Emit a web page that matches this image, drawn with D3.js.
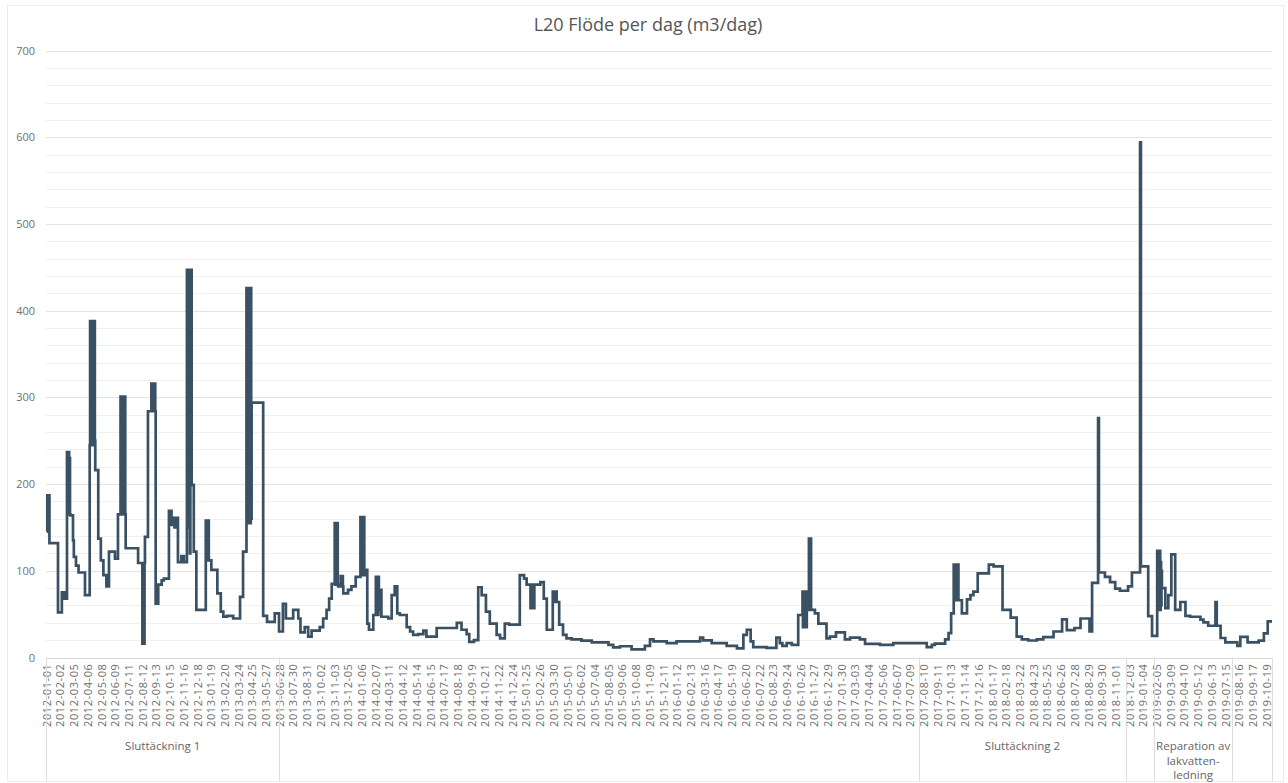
<!DOCTYPE html>
<html>
<head>
<meta charset="utf-8">
<script src="https://cdn.jsdelivr.net/npm/d3@7"></script>
<style>
  html, body { margin: 0; padding: 0; background: #fff; }
  svg { display: block; font-family: "Open Sans", "Segoe UI", sans-serif; }
</style>
</head>
<body>
<svg id="chart" width="1288" height="783"></svg>
<script>
// ---------------- DATA ----------------
const chartTitle = "L20 Flöde per dag (m3/dag)";
const yTicks = [0, 100, 200, 300, 400, 500, 600, 700];

// step series: value holds from its date until the next date
const flowDates = [
  // 2012
  "2012-01-01","2012-01-02","2012-01-03","2012-01-04","2012-01-05","2012-01-06","2012-01-07","2012-01-27","2012-02-05","2012-02-11",
  "2012-02-17","2012-02-18","2012-02-19","2012-02-20","2012-02-21","2012-02-22","2012-02-23","2012-02-24","2012-02-25","2012-03-02",
  "2012-03-04","2012-03-09","2012-03-15","2012-03-30",
  "2012-04-10","2012-04-11","2012-04-12","2012-04-13","2012-04-14","2012-04-15","2012-04-16","2012-04-17","2012-04-18","2012-04-19",
  "2012-04-20","2012-04-21","2012-04-22","2012-04-23","2012-04-30","2012-05-06","2012-05-12","2012-05-19","2012-05-25","2012-06-08",
  "2012-06-15","2012-06-21","2012-06-22","2012-06-23","2012-06-24","2012-06-25","2012-06-26","2012-06-27","2012-06-28","2012-06-29",
  "2012-06-30","2012-07-01","2012-07-02","2012-07-03","2012-08-01","2012-08-11","2012-08-12","2012-08-13","2012-08-14","2012-08-15",
  "2012-08-16","2012-08-17","2012-08-24","2012-09-01","2012-09-02","2012-09-03","2012-09-04","2012-09-05","2012-09-06","2012-09-07",
  "2012-09-08","2012-09-09","2012-09-10","2012-09-11","2012-09-17","2012-09-25","2012-09-30","2012-10-12","2012-10-18","2012-10-24",
  "2012-10-25","2012-10-26","2012-10-27","2012-10-28","2012-10-29","2012-10-30","2012-10-31","2012-11-01","2012-11-02","2012-11-10",
  "2012-11-16","2012-11-23","2012-11-24","2012-11-25","2012-11-26","2012-11-27","2012-11-28","2012-11-29","2012-11-30","2012-12-01",
  "2012-12-02","2012-12-03","2012-12-04","2012-12-09","2012-12-15",
  // 2013
  "2013-01-06","2013-01-07","2013-01-08","2013-01-09","2013-01-10","2013-01-11","2013-01-12","2013-01-13","2013-01-19","2013-02-02",
  "2013-02-10","2013-02-16","2013-02-24","2013-03-11","2013-03-27","2013-04-03","2013-04-11","2013-04-12","2013-04-13","2013-04-14",
  "2013-04-15","2013-04-16","2013-04-17","2013-04-18","2013-04-19","2013-04-20","2013-04-21","2013-04-22","2013-04-23","2013-05-20",
  "2013-05-29","2013-06-16","2013-06-26","2013-07-05","2013-07-12","2013-07-29","2013-08-10","2013-08-15","2013-08-25","2013-09-02",
  "2013-09-10","2013-09-29","2013-10-07","2013-10-15","2013-10-21","2013-10-27","2013-11-03","2013-11-04","2013-11-05","2013-11-06",
  "2013-11-07","2013-11-08","2013-11-09","2013-11-10","2013-11-11","2013-11-17","2013-11-18","2013-11-19","2013-11-20","2013-11-21",
  "2013-11-22","2013-11-23","2013-12-04","2013-12-12","2013-12-22",
  // 2014
  "2014-01-02","2014-01-03","2014-01-04","2014-01-05","2014-01-06","2014-01-07","2014-01-08","2014-01-09","2014-01-10","2014-01-11",
  "2014-01-12","2014-01-18","2014-01-22","2014-02-01","2014-02-07","2014-02-08","2014-02-09","2014-02-10","2014-02-11","2014-02-12",
  "2014-02-13","2014-02-14","2014-02-15","2014-02-20","2014-03-08","2014-03-16","2014-03-23","2014-03-29","2014-04-04","2014-04-20",
  "2014-04-28","2014-05-05","2014-05-17","2014-05-29","2014-06-05","2014-06-29","2014-08-15","2014-08-26","2014-09-07","2014-09-13",
  "2014-09-24","2014-10-04","2014-10-12","2014-10-22","2014-10-31","2014-11-16","2014-11-24","2014-12-05","2014-12-15",
  // 2015
  "2015-01-09","2015-01-19","2015-01-25","2015-02-03","2015-02-04","2015-02-05","2015-02-06","2015-02-07","2015-02-08","2015-02-09",
  "2015-02-10","2015-02-11","2015-02-12","2015-02-26","2015-03-06","2015-03-13","2015-03-27","2015-03-28","2015-03-29","2015-03-30",
  "2015-03-31","2015-04-01","2015-04-02","2015-04-03","2015-04-04","2015-04-05","2015-04-11","2015-04-20","2015-04-28","2015-05-10",
  "2015-06-02","2015-06-26","2015-08-04","2015-08-15","2015-08-31","2015-09-27","2015-10-28","2015-11-09","2015-11-17","2015-12-18",
  // 2016
  "2016-01-10","2016-03-05","2016-03-12","2016-04-01","2016-05-06","2016-05-30","2016-06-14","2016-06-22","2016-07-01","2016-07-07",
  "2016-08-07","2016-08-30","2016-09-07","2016-09-13","2016-09-23","2016-10-05","2016-10-20","2016-10-30","2016-10-31","2016-11-01",
  "2016-11-02","2016-11-03","2016-11-04","2016-11-05","2016-11-06","2016-11-07","2016-11-08","2016-11-09","2016-11-14","2016-11-15",
  "2016-11-16","2016-11-17","2016-11-18","2016-11-19","2016-11-28","2016-12-06","2016-12-25",
  // 2017
  "2017-01-02","2017-01-16","2017-02-06","2017-02-18","2017-03-13","2017-03-25","2017-04-29","2017-05-30","2017-08-16","2017-08-28",
  "2017-09-04","2017-09-28","2017-10-06","2017-10-12","2017-10-18","2017-10-19","2017-10-20","2017-10-21","2017-10-22","2017-10-23",
  "2017-10-24","2017-10-25","2017-10-26","2017-10-27","2017-10-28","2017-10-29","2017-11-06","2017-11-18","2017-11-26","2017-12-03",
  "2017-12-13",
  // 2018
  "2018-01-08","2018-01-19","2018-02-09","2018-02-28","2018-03-14","2018-03-26","2018-04-10","2018-04-30","2018-05-15","2018-06-08",
  "2018-06-28","2018-07-09","2018-07-27","2018-08-10","2018-08-31","2018-09-06","2018-09-20","2018-09-22","2018-10-06","2018-10-18",
  "2018-10-30","2018-11-10","2018-11-29","2018-12-08","2018-12-27","2018-12-29",
  // 2019
  "2019-01-15","2019-01-24","2019-02-05","2019-02-06","2019-02-07","2019-02-08","2019-02-09","2019-02-10","2019-02-11","2019-02-12",
  "2019-02-13","2019-02-14","2019-02-15","2019-02-16","2019-02-17","2019-02-24","2019-03-03","2019-03-10","2019-03-19","2019-03-31",
  "2019-04-12","2019-04-23","2019-05-17","2019-05-24","2019-06-04","2019-06-21","2019-06-24","2019-07-03","2019-07-14","2019-08-11",
  "2019-08-18","2019-09-04","2019-09-30","2019-10-12","2019-10-21","2019-10-31"
];
const flowValues = [
  // 2012
  145,187,150,187,160,187,132,52,75,68,
  237,170,237,180,237,165,230,165,164,135,
  116,106,98,72,
  245,388,250,388,245,388,260,388,250,388,
  245,388,250,216,137,112,95,82,122,114,
  165,301,170,301,165,301,170,301,165,301,
  170,301,165,126,109,16,109,16,100,16,
  109,139,284,316,284,316,290,316,284,316,
  290,316,284,62,84,89,91,169,153,161,
  150,161,150,161,153,161,150,161,110,117,
  110,447,200,447,150,447,200,447,120,447,
  200,447,199,122,55,
  // 2013
  158,112,158,115,158,112,158,112,101,74,
  53,47,48,45,70,122,426,160,426,155,
  426,160,426,170,426,155,426,160,294,48,
  41,51,30,62,45,55,45,29,35,24,
  31,35,45,55,68,85,155,84,155,84,
  155,88,155,84,82,94,82,94,82,94,
  82,74,78,82,93,
  // 2014
  162,95,162,100,162,95,162,100,162,95,
  101,39,32,49,93,49,93,52,93,49,
  93,55,78,47,45,72,82,51,49,35,
  30,26,27,31,24,34,40,32,27,18,
  20,81,72,53,39,26,22,39,38,
  // 2015
  95,91,84,57,84,57,84,57,84,57,
  84,57,84,87,68,32,76,64,76,64,
  76,64,76,64,76,64,38,26,22,21,
  19.5,17.5,14.5,11.7,13,9.4,13.5,21,18.5,16.5,
  // 2016
  18.5,23,19.7,16.5,13.5,10.5,26,32,18.5,12,
  11,23,16.5,13.5,16.5,14.5,49,76,35,76,
  40,76,35,76,38,76,35,55,137,55,
  137,55,137,55,51,39,22,
  // 2017
  24,29,21,23,21,15.6,14.5,16.5,12,14.5,
  16,21,28,51,107,66,107,68,107,66,
  107,70,107,66,107,66,51,67,72,76,
  97,
  // 2018
  107,105,55,46,24,21,19.6,21,23.5,30,
  44,31.5,34,45,30,86,276,98,93,87,
  79.5,77,82,98,594,105,
  // 2019
  47.6,25,123,60,123,55,123,58,123,55,
  110,60,100,80,80,57,72,119,55,64,
  48,47,43.6,40.5,36.6,64,36.6,22.5,17.5,13.3,
  23.7,17.5,19.5,27.8,41.7,41.7
];

const tickLabels = [
  "2012-01-01","2012-02-02","2012-03-05","2012-04-06","2012-05-08","2012-06-09","2012-07-11","2012-08-12","2012-09-13","2012-10-15",
  "2012-11-16","2012-12-18","2013-01-19","2013-02-20","2013-03-24","2013-04-25","2013-05-27","2013-06-28","2013-07-30","2013-08-31",
  "2013-10-02","2013-11-03","2013-12-05","2014-01-06","2014-02-07","2014-03-11","2014-04-12","2014-05-14","2014-06-15","2014-07-17",
  "2014-08-18","2014-09-19","2014-10-21","2014-11-22","2014-12-24","2015-01-25","2015-02-26","2015-03-30","2015-05-01","2015-06-02",
  "2015-07-04","2015-08-05","2015-09-06","2015-10-08","2015-11-09","2015-12-11","2016-01-12","2016-02-13","2016-03-16","2016-04-17",
  "2016-05-19","2016-06-20","2016-07-22","2016-08-23","2016-09-24","2016-10-26","2016-11-27","2016-12-29","2017-01-30","2017-03-03",
  "2017-04-04","2017-05-06","2017-06-07","2017-07-09","2017-08-10","2017-09-11","2017-10-13","2017-11-14","2017-12-16","2018-01-17",
  "2018-02-18","2018-03-22","2018-04-23","2018-05-25","2018-06-26","2018-07-28","2018-08-29","2018-09-30","2018-11-01","2018-12-03",
  "2019-01-04","2019-02-05","2019-03-09","2019-04-10","2019-05-12","2019-06-13","2019-07-15","2019-08-16","2019-09-17","2019-10-19"
];

// period annotations under the axis
const periodStarts = ["2011-12-30","2013-06-27","2017-07-28","2018-11-25","2019-01-29","2019-07-30"];
const periodEnds   = ["2013-06-27","2017-07-28","2018-11-25","2019-01-29","2019-07-30","2019-10-31"];
const periodNames  = [["Sluttäckning 1"], [], ["Sluttäckning 2"], [], ["Reparation av","lakvatten-","ledning"], []];

// ---------------- DRAW ----------------
const parse = d3.utcParse("%Y-%m-%d");
const svg = d3.select("#chart");
const pLeft = 46, pRight = 1272, pTop = 50.5, pBottom = 657.5;

const x = d3.scaleUtc().domain([parse("2011-12-30"), parse("2019-10-31")]).range([pLeft, pRight]);
const y = d3.scaleLinear().domain([0, 700]).range([pBottom, pTop]);

// outer frame
svg.append("rect").attr("x", 7.5).attr("y", 5.5).attr("width", 1276).attr("height", 776)
  .attr("fill", "none").attr("stroke", "#ececec").attr("stroke-width", 1);

// title
svg.append("text").attr("x", 648).attr("y", 31).attr("text-anchor", "middle")
  .attr("font-size", 18).attr("fill", "#555").text(chartTitle);

// minor grid
const minor = d3.range(0, 701, 20).filter(v => v % 100 !== 0);
svg.append("g").selectAll("line").data(minor).join("line")
  .attr("x1", pLeft).attr("x2", pRight)
  .attr("y1", d => Math.round(y(d)) + 0.5).attr("y2", d => Math.round(y(d)) + 0.5)
  .attr("stroke", "#f1f1f1").attr("stroke-width", 1);

// major grid + y labels
const yAxis = d3.axisLeft(y).tickValues(yTicks).tickSize(0).tickPadding(0);
const gy = svg.append("g").attr("transform", `translate(${pLeft - 11},0)`).call(yAxis);
gy.select(".domain").remove();
gy.selectAll("text").attr("font-size", 11).attr("fill", "#707070").attr("font-family", "Open Sans, sans-serif");
svg.append("g").selectAll("line").data(yTicks).join("line")
  .attr("x1", pLeft).attr("x2", pRight)
  .attr("y1", d => Math.round(y(d)) + 0.5).attr("y2", d => Math.round(y(d)) + 0.5)
  .attr("stroke", d => d === 0 ? "#d9d9d9" : "#e3e3e3").attr("stroke-width", 1);

// x tick labels (rotated)
const gx = svg.append("g");
gx.selectAll("text").data(tickLabels).join("text")
  .attr("transform", d => `translate(${x(parse(d))},${pBottom + 6}) rotate(-90)`)
  .attr("text-anchor", "end").attr("dy", "0.35em")
  .attr("font-size", 11).attr("letter-spacing", "0.6px")
  .attr("fill", "#6c6c6c").text(d => d);

// period separators and names
const periods = periodStarts.map((s, i) => ({ s: parse(s), e: parse(periodEnds[i]), name: periodNames[i] }));
const sepDates = [parse(periodStarts[0])].concat(periodEnds.map(parse));
svg.append("g").selectAll("line").data(sepDates).join("line")
  .attr("x1", d => Math.round(x(d)) + 0.5).attr("x2", d => Math.round(x(d)) + 0.5)
  .attr("y1", pBottom).attr("y2", 781)
  .attr("stroke", "#dedede").attr("stroke-width", 1);
const gp = svg.append("g");
periods.forEach(p => {
  const cx = (x(p.s) + x(p.e)) / 2;
  p.name.forEach((ln, j) => {
    gp.append("text").attr("x", cx).attr("y", 750 + j * 14.5).attr("text-anchor", "middle")
      .attr("font-size", 11.5).attr("fill", "#666").text(ln);
  });
});

// series
const data = flowDates.map((d, i) => ({ date: parse(d), value: flowValues[i] }));
const line = d3.line().x(d => x(d.date)).y(d => y(d.value)).curve(d3.curveStepAfter);
svg.append("path").datum(data).attr("d", line)
  .attr("fill", "none").attr("stroke", "#3a5163").attr("stroke-width", 2.7)
  .attr("stroke-linejoin", "miter");
</script>
</body>
</html>
